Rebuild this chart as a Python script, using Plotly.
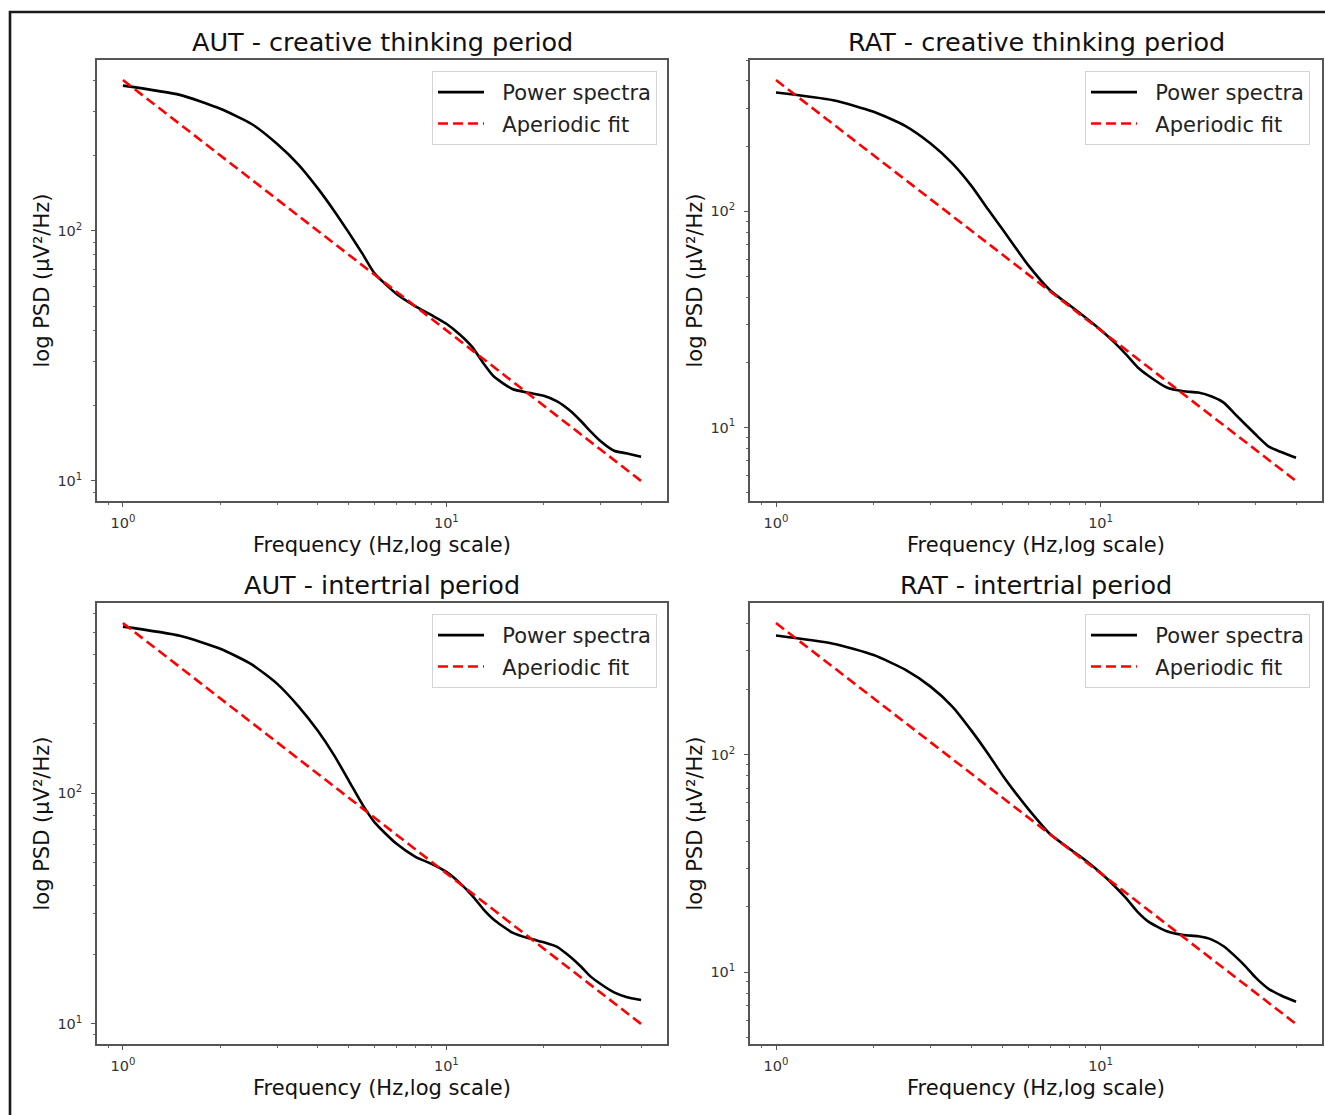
import plotly.graph_objects as go
import numpy as np

# ---------------- data ----------------
FREQ = [1, 1.5, 2, 2.5, 3, 3.5, 4, 4.5, 5, 5.5, 6, 7, 8, 9, 10, 11, 12, 13, 14,
        16, 18, 20, 22, 24, 26, 28, 30, 33, 36, 40]

AUT_CREATIVE = [380, 349, 307, 267, 222, 183, 148, 120, 98, 81, 67.5, 56, 50, 46,
                42.5, 38.5, 34.4, 29.6, 26.2, 23.3, 22.5, 21.9, 20.8, 19.2, 17.4,
                15.7, 14.4, 13.2, 12.9, 12.5]
RAT_CREATIVE = [354, 326, 288, 248, 205, 166, 131, 102, 82, 67, 56, 43, 36.9, 32.2,
                28.3, 24.8, 21.7, 19.0, 17.4, 15.3, 14.7, 14.5, 13.9, 13.0, 11.5,
                10.3, 9.3, 8.15, 7.7, 7.24]
AUT_INTER = [528, 482, 423, 362, 298, 237, 187, 146, 113, 89.5, 74.8, 60.5, 53.2,
             49.4, 45.6, 40.9, 36.1, 31.5, 28.4, 24.9, 23.5, 22.6, 21.6, 19.7, 17.8,
             16.0, 14.9, 13.7, 13.1, 12.7]
RAT_INTER = [353, 324, 287, 246, 205, 166, 129, 101, 80, 66, 56, 43, 37, 32.6, 28.6,
             25, 21.8, 18.9, 17.1, 15.4, 14.8, 14.6, 14.1, 13.1, 11.8, 10.6, 9.45,
             8.35, 7.8, 7.3]

FIT_FREQ = [1, 40]
AUT_CREATIVE_FIT = [400, 10]
RAT_CREATIVE_FIT = [404, 5.66]
AUT_INTER_FIT = [547, 10]
RAT_INTER_FIT = [403, 5.77]

TITLES = ["AUT - creative thinking period", "RAT - creative thinking period",
          "AUT - intertrial period", "RAT - intertrial period"]
SERIES_NAMES = ["Power spectra", "Aperiodic fit"]
X_LABEL = "Frequency (Hz,log scale)"
Y_LABEL = "log PSD (μV²/Hz)"
X_TICKS = [1, 10]
X_TICKTEXT = ["10<sup>0</sup>", "10<sup>1</sup>"]
Y_TICKS = [10, 100]
Y_TICKTEXT = ["10<sup>1</sup>", "10<sup>2</sup>"]

# ---------------- layout geometry ----------------
W, H = 1325, 1115
FONT = "DejaVu Sans"
# panel boxes in pixels: (left, right, top, bottom)
BOXES = [(97, 667, 60, 501), (750, 1322, 60, 501),
         (97, 667, 603, 1044), (750, 1322, 603, 1044)]
LEGEND_RIGHT = [657, 1310, 657, 1310]
NBSP = "\u00a0\u00a0"


def px(x):
    return x / W


def py(y):
    return 1 - y / H


panels = [(AUT_CREATIVE, AUT_CREATIVE_FIT), (RAT_CREATIVE, RAT_CREATIVE_FIT),
          (AUT_INTER, AUT_INTER_FIT), (RAT_INTER, RAT_INTER_FIT)]

fig = go.Figure()
annotations = []
minor_x = [v * d for d in (1, 10) for v in range(2, 10)] + [0.9]
minor_y = [v * d for d in (1, 10, 100) for v in range(2, 10)]

for i, ((psd, fit), box) in enumerate(zip(panels, BOXES)):
    k = "" if i == 0 else str(i + 1)
    leg = "legend" if i == 0 else f"legend{i + 1}"
    fig.add_trace(go.Scatter(x=FREQ, y=psd, mode="lines", name=NBSP + SERIES_NAMES[0],
                             line=dict(color="black", width=2.6, shape="spline", smoothing=0.6),
                             xaxis="x" + k, yaxis="y" + k, legend=leg, legendgroup=f"a{i}"))
    fig.add_trace(go.Scatter(x=FIT_FREQ, y=fit, mode="lines", name=NBSP + SERIES_NAMES[1],
                             line=dict(color="#ff0000", width=2.6, dash="10px,5px"),
                             xaxis="x" + k, yaxis="y" + k, legend=leg, legendgroup=f"b{i}"))

    # matplotlib-like autoscale: 5% margins in log space
    xl = np.log10([min(FREQ), max(FREQ)])
    xm = 0.05 * (xl[1] - xl[0])
    allv = list(psd) + list(fit)
    yl = np.log10([min(allv), max(allv)])
    ym = 0.05 * (yl[1] - yl[0])

    l, r, t, b = box
    axcommon = dict(showline=True, mirror=True, linecolor="#555555", linewidth=1.6,
                    ticks="outside", ticklen=4, tickwidth=1.1, tickcolor="#555555",
                    showgrid=False, zeroline=False, type="log",
                    tickfont=dict(family=FONT, size=14.5, color="#333333"))
    fig.layout["xaxis" + k] = dict(
        axcommon, domain=[px(l), px(r)], anchor="y" + k,
        range=[xl[0] - xm, xl[1] + xm], tickvals=X_TICKS, ticktext=X_TICKTEXT,
        ticklabelstandoff=4,
        minor=dict(ticks="outside", ticklen=2.5, tickwidth=1, tickcolor="#666666",
                   tickvals=minor_x, showgrid=False))
    fig.layout["yaxis" + k] = dict(
        axcommon, domain=[py(b), py(t)], anchor="x" + k,
        range=[yl[0] - ym, yl[1] + ym], tickvals=Y_TICKS, ticktext=Y_TICKTEXT,
        ticklabelstandoff=6,
        minor=dict(ticks="outside", ticklen=2.5, tickwidth=1, tickcolor="#666666",
                   tickvals=minor_y, showgrid=False))

    fig.layout[leg] = dict(
        x=px(LEGEND_RIGHT[i]), y=py(t + 11), xanchor="right", yanchor="top",
        xref="paper", yref="paper",
        bgcolor="rgba(255,255,255,0.85)", bordercolor="#d4d4d4", borderwidth=1,
        font=dict(family=FONT, size=21, color="#222222"),
        traceorder="grouped", tracegroupgap=1, itemwidth=46)

    cx = (l + r) / 2
    annotations.append(dict(text=TITLES[i], x=px(cx), y=py(t - 18), xref="paper", yref="paper",
                            xanchor="center", yanchor="middle", showarrow=False,
                            font=dict(family=FONT, size=25.5, color="#111111")))
    annotations.append(dict(text=X_LABEL, x=px(cx), y=py(b + 44), xref="paper", yref="paper",
                            xanchor="center", yanchor="middle", showarrow=False,
                            font=dict(family=FONT, size=21, color="#111111")))
    annotations.append(dict(text=Y_LABEL, x=px(l - 56), y=py((t + b) / 2), xref="paper",
                            yref="paper", xanchor="center", yanchor="middle", showarrow=False,
                            textangle=-90, font=dict(family=FONT, size=21, color="#111111")))

fig.update_layout(
    width=W, height=H, margin=dict(l=0, r=0, t=0, b=0, pad=0),
    paper_bgcolor="white", plot_bgcolor="white",
    font=dict(family=FONT, color="#222222"),
    annotations=annotations,
    shapes=[dict(type="rect", xref="paper", yref="paper", x0=px(10), x1=1.02,
                 y0=-0.02, y1=py(12), line=dict(color="#1a1a1a", width=2.6),
                 fillcolor="rgba(0,0,0,0)", layer="below")],
)

fig.write_html("out.html", config={"displayModeBar": False},
               post_script="document.body.style.margin='0';")
